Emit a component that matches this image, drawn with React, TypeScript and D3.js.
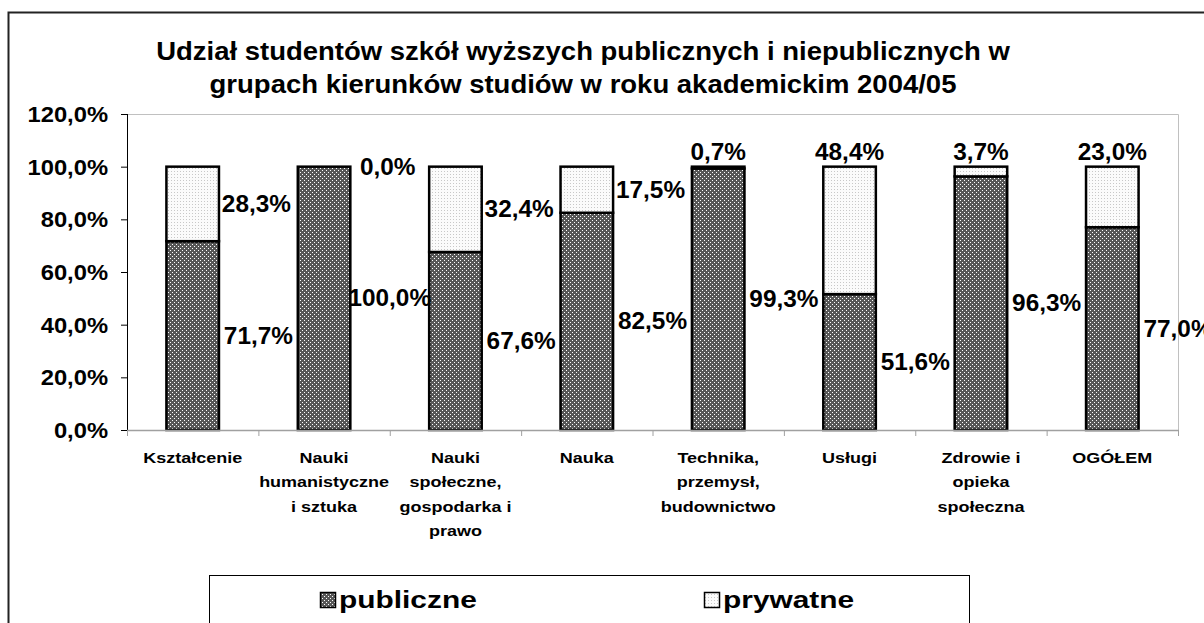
import React from "react";
import * as d3 from "d3";

const titleLines = [
  "Udział studentów szkół wyższych publicznych i niepublicznych w",
  "grupach kierunków studiów w roku akademickim 2004/05",
];

const categories = [
  "Kształcenie",
  "Nauki humanistyczne i sztuka",
  "Nauki społeczne, gospodarka i prawo",
  "Nauka",
  "Technika, przemysł, budownictwo",
  "Usługi",
  "Zdrowie i opieka społeczna",
  "OGÓŁEM",
];

const categoryLines = [
  ["Kształcenie"],
  ["Nauki", "humanistyczne", "i sztuka"],
  ["Nauki", "społeczne,", "gospodarka i", "prawo"],
  ["Nauka"],
  ["Technika,", "przemysł,", "budownictwo"],
  ["Usługi"],
  ["Zdrowie i", "opieka", "społeczna"],
  ["OGÓŁEM"],
];

const publiczne = [71.7, 100.0, 67.6, 82.5, 99.3, 51.6, 96.3, 77.0];
const prywatne = [28.3, 0.0, 32.4, 17.5, 0.7, 48.4, 3.7, 23.0];

// where the private-share label sits: beside the bar or above it
const prywatnePlacement = ["side", "side", "side", "side", "top", "top", "top", "top"];

const yTicks = [0, 20, 40, 60, 80, 100, 120];

const seriesNames = ["publiczne", "prywatne"];

const W = 1204;
const H = 623;
const plot = { left: 127, right: 1178, top: 114, bottom: 430 };
const FONT = "'Liberation Sans', Arial, Helvetica, sans-serif";

const fmt = (v: number) => d3.format(".1f")(v).replace(".", ",") + "%";

function T(props: {
  x: number;
  y: number;
  size: number;
  sx: number;
  anchor?: string;
  children?: React.ReactNode;
}) {
  const { x, y, size, sx, anchor = "middle", children } = props;
  return (
    <text
      transform={`translate(${x},${y}) scale(${sx},1)`}
      textAnchor={anchor as any}
      fontSize={size}
      fontWeight="bold"
      fill="#000"
    >
      {children}
    </text>
  );
}

export default function App() {
  const x = d3
    .scaleBand<string>()
    .domain(categories)
    .range([plot.left, plot.right])
    .paddingInner(0.6)
    .paddingOuter(0.3);
  const y = d3.scaleLinear().domain([0, 120]).range([plot.bottom, plot.top]);
  const step = x.step();
  const bw = x.bandwidth();

  const stackData = categories.map((c, i) => ({
    cat: c,
    publiczne: publiczne[i],
    prywatne: prywatne[i],
  }));
  const series = d3.stack<any>().keys(seriesNames)(stackData);

  const boundaries = d3.range(categories.length + 1).map((i) => plot.left + i * step);

  return (
    <div style={{ position: "absolute", left: 0, top: 0 }}>
      <svg width={W} height={H} style={{ display: "block", background: "#fff" }} fontFamily={FONT}>
        <defs>
          <pattern id="patPub" width={4} height={4} patternUnits="userSpaceOnUse">
            <rect width={4} height={4} fill="#575757" />
            <rect x={0} y={0} width={1} height={1} fill="#ffffff" />
            <rect x={2} y={2} width={1} height={1} fill="#ffffff" />
          </pattern>
          <pattern id="patPriv" width={3} height={3} patternUnits="userSpaceOnUse">
            <rect width={3} height={3} fill="#fbfbfb" />
            <rect x={0} y={0} width={1} height={1} fill="#c8c8c8" />
          </pattern>
        </defs>

        {/* chart frame */}
        <rect x={8.5} y={12.5} width={1200} height={620} fill="none" stroke="#222" strokeWidth={2} />

        {/* title */}
        {titleLines.map((t, i) => (
          <T key={i} x={583} y={60 + i * 33} size={26} sx={1.057}>
            {t}
          </T>
        ))}

        {/* plot area border (top & right) */}
        <path
          d={`M${plot.left},${plot.top + 0.5}H${plot.right + 0.5}V${plot.bottom}`}
          fill="none"
          stroke="#c0c0c0"
          strokeWidth={1}
        />

        {/* y axis */}
        <line x1={plot.left + 0.5} x2={plot.left + 0.5} y1={plot.top} y2={plot.bottom} stroke="#000" />
        {yTicks.map((t) => (
          <g key={t}>
            <line x1={plot.left - 6} x2={plot.left} y1={y(t) + 0.5} y2={y(t) + 0.5} stroke="#000" />
            <T x={108} y={y(t) + 8} size={22} sx={1.08} anchor="end">
              {fmt(t)}
            </T>
          </g>
        ))}

        {/* bars */}
        {series.map((s, si) =>
          s.map((d, i) => {
            const h = y(d[0]) - y(d[1]);
            return (
              <rect
                key={`${si}-${i}`}
                x={x(categories[i])!}
                y={y(d[1])}
                width={bw}
                height={Math.max(h, 0)}
                fill={si === 0 ? "url(#patPub)" : "url(#patPriv)"}
                stroke="#000"
                strokeWidth={2.5}
              />
            );
          })
        )}

        {/* x axis */}
        <line x1={plot.left} x2={plot.right + 1} y1={plot.bottom + 0.5} y2={plot.bottom + 0.5} stroke="#a0a0a0" strokeWidth={1.5} />
        {boundaries.map((b, i) => (
          <line key={i} x1={b + 0.5} x2={b + 0.5} y1={plot.bottom} y2={plot.bottom + 6} stroke="#a0a0a0" strokeWidth={1} />
        ))}

        {/* category labels */}
        {categoryLines.map((lines, i) => (
          <T key={i} x={x(categories[i])! + bw / 2} y={463} size={15} sx={1.2}>
            {lines.map((l, j) => (
              <tspan key={j} x={0} dy={j === 0 ? 0 : 24.3}>
                {l}
              </tspan>
            ))}
          </T>
        ))}

        {/* value labels: publiczne */}
        {series[0].map((d, i) => (
          <T key={`pl-${i}`} x={boundaries[i + 1]} y={y((d[0] + d[1]) / 2) + 8} size={23} sx={1.06}>
            {fmt(publiczne[i])}
          </T>
        ))}

        {/* value labels: prywatne */}
        {series[1].map((d, i) => {
          const top = prywatnePlacement[i] === "top";
          const cx = top ? x(categories[i])! + bw / 2 : boundaries[i + 1] - 2;
          const cy = top ? y(d[1]) - 7 : y((d[0] + d[1]) / 2) + 8;
          return (
            <T key={`pr-${i}`} x={cx} y={cy} size={23} sx={1.06}>
              {fmt(prywatne[i])}
            </T>
          );
        })}

        {/* legend */}
        <rect x={209.5} y={575.5} width={760} height={60} fill="#fff" stroke="#000" strokeWidth={1} />
        {seriesNames.map((n, i) => {
          const lx = i === 0 ? 320 : 704;
          return (
            <g key={n}>
              <rect
                x={lx + 0.5}
                y={592.5}
                width={15}
                height={15}
                fill={i === 0 ? "url(#patPub)" : "url(#patPriv)"}
                stroke="#000"
                strokeWidth={1.5}
              />
              <T x={lx + 19} y={608} size={23} sx={1.3} anchor="start">
                {n}
              </T>
            </g>
          );
        })}
      </svg>
    </div>
  );
}
